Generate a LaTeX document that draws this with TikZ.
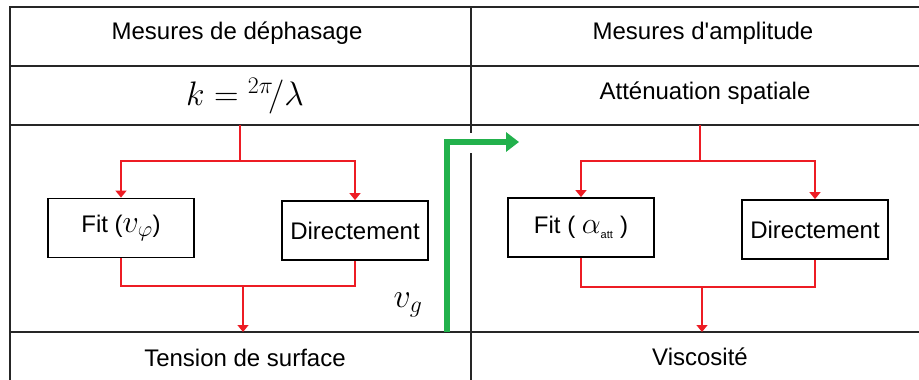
\RequirePackage{fix-cm}
\documentclass[tikz,border=0pt]{standalone}
\usepackage[no-math]{fontspec}
\setmainfont{Liberation Sans}
\usetikzlibrary{arrows.meta}
\definecolor{lred}{RGB}{237,28,36}
\definecolor{lgreen}{RGB}{34,177,76}
\tikzset{
  grid/.style={line width=1.6pt,black!85},
  txt/.style={font=\fontsize{24}{28}\selectfont,inner sep=0pt},
  mth/.style={font=\fontsize{34}{38}\selectfont,inner sep=0pt},
  stepbox/.style={draw,line width=1.8pt,font=\fontsize{24}{28}\selectfont,minimum width=146pt,minimum height=59pt,inner sep=0pt},
  rl/.style={draw=lred,line width=1.3pt},
  rarr/.style={rl,-{Triangle[width=11pt,length=7pt]}},
  garr/.style={draw=lgreen,line width=6pt,-{Triangle[width=19pt,length=13pt]}}
}
\begin{document}
\begin{tikzpicture}[x=1pt,y=-1pt]
\useasboundingbox (0,0) rectangle (919,380);
\fill[white] (0,0) rectangle (919,380);
% table
\draw[grid] (10,380) -- (10,7) -- (919,7);
\draw[grid] (10,66) -- (919,66);
\draw[grid] (10,125) -- (919,125);
\draw[grid] (10,332) -- (919,332);
\draw[grid] (471,7) -- (471,133);
\draw[grid] (471,153) -- (471,380);
% texts
\node[txt] (h1) at (237,33) {Mesures de déphasage};
\node[txt] (h2) at (703,33) {Mesures d\textquotesingle amplitude};
\node[mth] (k) at (245,96) {$k = {}^{2\pi}\!/\lambda$};
\node[txt] (att) at (705,93) {Atténuation spatiale};
\node[txt] (ts) at (245,358) {Tension de surface};
\node[txt] (visc) at (700,357) {Viscosité};
\node[mth] (vg) at (408,305) {$v_g$};
% boxes
\node[stepbox] (fit1) at (121,228) {Fit (\fontsize{32}{34}\selectfont$v_\varphi$\fontsize{24}{28}\selectfont)};
\node[stepbox] (dir1) at (355,230.5) {Directement};
\node[stepbox] (fit2) at (581,227.5) {Fit ( \fontsize{30}{34}\selectfont$\alpha_{\mbox{\fontsize{11}{11}\selectfont att}}$\fontsize{24}{28}\selectfont{} )};
\node[stepbox] (dir2) at (815,229.5) {Directement};
% left connectors
\coordinate (t1) at (240,125);
\coordinate (j1) at (240,161);
\coordinate (b1) at (243,286);
\coordinate (e1) at (243,332);
\draw[rl] (t1) -- (j1);
\draw[rarr] (j1) -| (fit1.north);
\draw[rarr] (j1) -| (dir1.north);
\draw[rl] (fit1.south) |- (b1);
\draw[rl] (dir1.south) |- (b1);
\draw[rarr] (b1) -- (e1);
% right connectors
\coordinate (t2) at (700,125);
\coordinate (j2) at (700,161);
\coordinate (b2) at (702,287);
\coordinate (e2) at (702,332);
\draw[rl] (t2) -- (j2);
\draw[rarr] (j2) -| (fit2.north);
\draw[rarr] (j2) -| (dir2.north);
\draw[rl] (fit2.south) |- (b2);
\draw[rl] (dir2.south) |- (b2);
\draw[rarr] (b2) -- (e2);
% green arrow
\coordinate (g0) at (447,332);
\coordinate (g1) at (447,142);
\coordinate (g2) at (519,142);
\draw[garr] (g0) -- (g1) -- (g2);
\end{tikzpicture}
\end{document}
